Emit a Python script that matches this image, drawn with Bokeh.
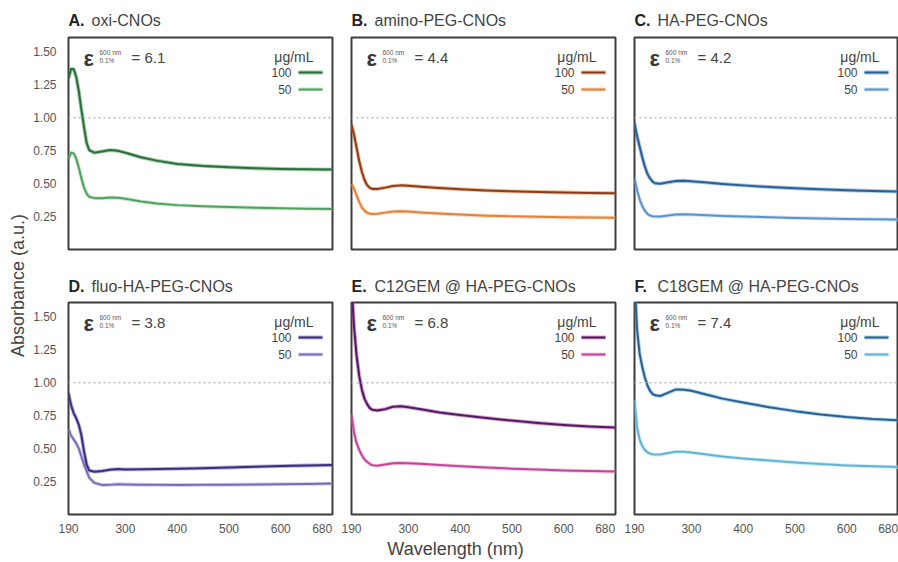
import numpy as np
from bokeh.plotting import figure
from bokeh.layouts import row, column
from bokeh.models import (Range1d, FixedTicker, NumeralTickFormatter, Span, Label,
                          ColumnDataSource, Arrow)
from bokeh.embed import file_html
from bokeh.resources import INLINE

# ---------------- data ----------------
wavelength_nm = [190, 195, 200, 205, 210, 215, 220, 225, 230, 240, 255, 270,
                 285, 300, 330, 360, 400, 450, 500, 550, 600, 650, 700]

panel_letters = ["A.", "B.", "C.", "D.", "E.", "F."]
panel_names = ["oxi-CNOs", "amino-PEG-CNOs", "HA-PEG-CNOs",
               "fluo-HA-PEG-CNOs", "C12GEM @ HA-PEG-CNOs", "C18GEM @ HA-PEG-CNOs"]
epsilon_values = ["6.1", "4.4", "4.2", "3.8", "6.8", "7.4"]
concentrations = ["100", "50"]

abs_oxi_100 = [1.30, 1.37, 1.37, 1.31, 1.20, 1.06, 0.93, 0.81, 0.755, 0.735, 0.745, 0.755,
               0.75, 0.735, 0.70, 0.675, 0.65, 0.635, 0.625, 0.617, 0.612, 0.609, 0.607]
abs_oxi_50 = [0.69, 0.735, 0.73, 0.69, 0.62, 0.54, 0.47, 0.425, 0.40, 0.39, 0.39, 0.395,
              0.393, 0.385, 0.365, 0.35, 0.337, 0.328, 0.322, 0.317, 0.313, 0.31, 0.308]

abs_amino_100 = [0.95, 0.87, 0.77, 0.67, 0.59, 0.53, 0.49, 0.47, 0.46, 0.46, 0.47, 0.482,
                 0.487, 0.484, 0.475, 0.467, 0.458, 0.449, 0.442, 0.437, 0.433, 0.43, 0.428]
abs_amino_50 = [0.50, 0.46, 0.41, 0.36, 0.32, 0.295, 0.28, 0.272, 0.27, 0.272, 0.28, 0.288,
                0.29, 0.288, 0.28, 0.273, 0.265, 0.257, 0.252, 0.248, 0.245, 0.243, 0.242]

abs_ha_100 = [0.96, 0.86, 0.78, 0.70, 0.63, 0.575, 0.54, 0.515, 0.503, 0.50, 0.51, 0.52,
              0.522, 0.518, 0.508, 0.498, 0.487, 0.475, 0.465, 0.457, 0.45, 0.445, 0.44]
abs_ha_50 = [0.54, 0.45, 0.38, 0.33, 0.295, 0.27, 0.258, 0.252, 0.25, 0.25, 0.258, 0.265,
             0.267, 0.265, 0.26, 0.255, 0.25, 0.245, 0.24, 0.236, 0.232, 0.229, 0.227]

abs_fluo_100 = [0.92, 0.83, 0.77, 0.73, 0.68, 0.60, 0.48, 0.38, 0.335, 0.325, 0.33, 0.34,
                0.345, 0.342, 0.343, 0.345, 0.348, 0.352, 0.357, 0.363, 0.368, 0.372, 0.375]
abs_fluo_50 = [0.65, 0.60, 0.57, 0.54, 0.50, 0.44, 0.38, 0.33, 0.28, 0.24, 0.224, 0.225,
               0.23, 0.228, 0.226, 0.225, 0.224, 0.225, 0.226, 0.228, 0.23, 0.232, 0.235]

abs_c12_100 = [1.75, 1.42, 1.20, 1.05, 0.95, 0.88, 0.84, 0.81, 0.795, 0.79, 0.80, 0.818,
               0.822, 0.815, 0.795, 0.775, 0.755, 0.733, 0.713, 0.695, 0.68, 0.668, 0.66]
abs_c12_50 = [0.76, 0.62, 0.54, 0.49, 0.45, 0.42, 0.40, 0.385, 0.375, 0.37, 0.38, 0.39,
              0.392, 0.39, 0.383, 0.375, 0.367, 0.357, 0.348, 0.341, 0.335, 0.33, 0.326]

abs_c18_100 = [1.80, 1.40, 1.22, 1.12, 1.04, 0.98, 0.94, 0.915, 0.905, 0.90, 0.925, 0.95,
               0.948, 0.94, 0.91, 0.88, 0.85, 0.815, 0.785, 0.76, 0.74, 0.725, 0.715]
abs_c18_50 = [0.87, 0.66, 0.57, 0.52, 0.49, 0.472, 0.462, 0.457, 0.455, 0.455, 0.467, 0.477,
              0.476, 0.47, 0.455, 0.44, 0.425, 0.41, 0.395, 0.383, 0.373, 0.366, 0.36]

series_100 = [abs_oxi_100, abs_amino_100, abs_ha_100, abs_fluo_100, abs_c12_100, abs_c18_100]
series_50 = [abs_oxi_50, abs_amino_50, abs_ha_50, abs_fluo_50, abs_c12_50, abs_c18_50]

x_ticks = [190, 300, 400, 500, 600, 680]
y_ticks = [0.25, 0.50, 0.75, 1.00, 1.25, 1.50]

# ---------------- styling ----------------
colors_100 = ["#2e6e3c", "#8a3d1e", "#2b5f97", "#3a2e7e", "#4b1d63", "#2c5f92"]
colors_50 = ["#4fa35d", "#e3823a", "#5b94cc", "#7a6cb8", "#c5449a", "#62b3d6"]
halo_50 = ["#9fd4a6", "#f4b987", "#a9c9e8", "#b7addc", "#e6a0cb", "#a9dcef"]

FONT = "Liberation Sans"
FRAME_W, FRAME_H = 264, 212
X_RANGE = (190, 700)
Y_RANGE = (0, 1.61)
LEFT_STRIP = 30
col_borders = [(38, 9), (10, 9), (10, 0)]


def blank(width, height):
    f = figure(width=width, height=height, x_range=Range1d(0, width),
               y_range=Range1d(0, height), min_border=0,
               x_axis_location=None, y_axis_location=None,
               output_backend="svg", toolbar_location=None, tools="")
    f.grid.visible = False
    f.outline_line_color = None
    f.background_fill_color = "white"
    f.border_fill_color = "white"
    return f


def draw_curve(p, y, core, halo):
    src = ColumnDataSource(dict(x=wavelength_nm, y=y))
    p.line("x", "y", source=src, line_color=halo, line_width=3.8, line_alpha=0.55,
           line_join="round")
    p.line("x", "y", source=src, line_color=core, line_width=2.0, line_join="round")


def swatch(p, y, core, halo):
    for c, w, a in ((halo, 3.8, 0.55), (core, 2.0, 1.0)):
        p.add_layout(Arrow(x_start=230, y_start=y, x_end=254, y_end=y,
                           start_units="screen", end_units="screen",
                           start=None, end=None,
                           line_color=c, line_width=w, line_alpha=a))


def heading_strip(indices, height, y):
    """Strip above a row of panels holding the bold letter + sample name."""
    s = blank(898 - LEFT_STRIP, height)
    x0 = 0
    for k, i in enumerate(indices):
        left, right = col_borders[k]
        fx = x0 + left
        s.add_layout(Label(x=fx, y=y, text=panel_letters[i], text_font=FONT,
                           text_font_size="16px", text_font_style="bold",
                           text_color="#222222", text_baseline="middle"))
        s.add_layout(Label(x=fx + 23, y=y, text=panel_names[i], text_font=FONT,
                           text_font_size="16px", text_color="#444444",
                           text_baseline="middle"))
        x0 += left + FRAME_W + right
    return s


def make_panel(i, left, right, top, bottom, show_x, show_y):
    p = figure(frame_width=FRAME_W, frame_height=FRAME_H,
               x_range=Range1d(*X_RANGE), y_range=Range1d(*Y_RANGE),
               min_border_left=left, min_border_right=right,
               min_border_top=top, min_border_bottom=bottom,
               x_axis_location="below" if show_x else None,
               y_axis_location="left" if show_y else None,
               output_backend="svg", toolbar_location=None, tools="")
    p.grid.visible = False
    p.background_fill_color = "white"
    p.border_fill_color = "white"
    p.outline_line_color = "#3d3d3d"
    p.outline_line_width = 2
    p.outline_line_alpha = 1

    if show_x:
        ax = p.xaxis[0]
        ax.ticker = FixedTicker(ticks=x_ticks)
        ax.major_label_standoff = 3
    if show_y:
        ax = p.yaxis[0]
        ax.ticker = FixedTicker(ticks=y_ticks)
        ax.formatter = NumeralTickFormatter(format="0.00")
        ax.major_label_standoff = 6
    for ax in p.axis:
        ax.major_tick_line_color = None
        ax.minor_tick_line_color = None
        ax.axis_line_color = None
        ax.major_label_text_font = FONT
        ax.major_label_text_font_size = "12px"
        ax.major_label_text_color = "#555555"

    p.add_layout(Span(location=1.0, dimension="width", line_color="#bdbdbd",
                      line_width=1.5, line_dash="2 3"))

    draw_curve(p, series_50[i], colors_50[i], halo_50[i])
    draw_curve(p, series_100[i], colors_100[i], colors_50[i])

    # extinction coefficient
    p.add_layout(Label(x=15, y=FRAME_H - 21, x_units="screen", y_units="screen",
                       text="ε", text_font=FONT, text_font_size="22px",
                       text_font_style="bold", text_color="#3a3a3a",
                       text_baseline="middle"))
    p.add_layout(Label(x=31, y=FRAME_H - 15, x_units="screen", y_units="screen",
                       text="600 nm", text_font=FONT, text_font_size="6.5px",
                       text_color="#555555", text_baseline="middle"))
    p.add_layout(Label(x=31, y=FRAME_H - 23, x_units="screen", y_units="screen",
                       text="0.1%", text_font=FONT, text_font_size="6.5px",
                       text_color="#555555", text_baseline="middle"))
    p.add_layout(Label(x=63, y=FRAME_H - 20, x_units="screen", y_units="screen",
                       text="= " + epsilon_values[i], text_font=FONT,
                       text_font_size="15px", text_color="#444444",
                       text_baseline="middle"))

    # concentration key
    p.add_layout(Label(x=245, y=FRAME_H - 19, x_units="screen", y_units="screen",
                       text="μg/mL", text_font=FONT, text_font_size="14px",
                       text_color="#444444", text_align="right",
                       text_baseline="middle"))
    key_y = [FRAME_H - 35, FRAME_H - 52]
    for conc, ky, core, halo in zip(concentrations, key_y,
                                    [colors_100[i], colors_50[i]],
                                    [colors_50[i], halo_50[i]]):
        p.add_layout(Label(x=223, y=ky, x_units="screen", y_units="screen",
                           text=conc, text_font=FONT, text_font_size="12px",
                           text_color="#444444", text_align="right",
                           text_baseline="middle"))
        swatch(p, ky, core, halo)
    return p


def text_strip(width, height, x, y, text, angle=0.0):
    f = blank(width, height)
    f.add_layout(Label(x=x, y=y, text=text, angle=angle, text_font=FONT,
                       text_font_size="18px", text_color="#444444",
                       text_align="center", text_baseline="middle"))
    return f


top_row = [make_panel(i, *col_borders[i], 7, 5, False, i == 0) for i in range(3)]
bottom_row = [make_panel(i + 3, *col_borders[i], 4, 22, True, i == 0) for i in range(3)]

heading_1 = heading_strip([0, 1, 2], 30, 10)
heading_2 = heading_strip([3, 4, 5], 44, 12)

y_label = text_strip(LEFT_STRIP, 562, 17, 562 - 285, "Absorbance (a.u.)", angle=np.pi / 2)
x_label = text_strip(898 - LEFT_STRIP, 26, 425, 14, "Wavelength (nm)")

layout = row(y_label, column(heading_1, row(*top_row), heading_2, row(*bottom_row), x_label))

open("out.html", "w").write(file_html(layout, INLINE))
